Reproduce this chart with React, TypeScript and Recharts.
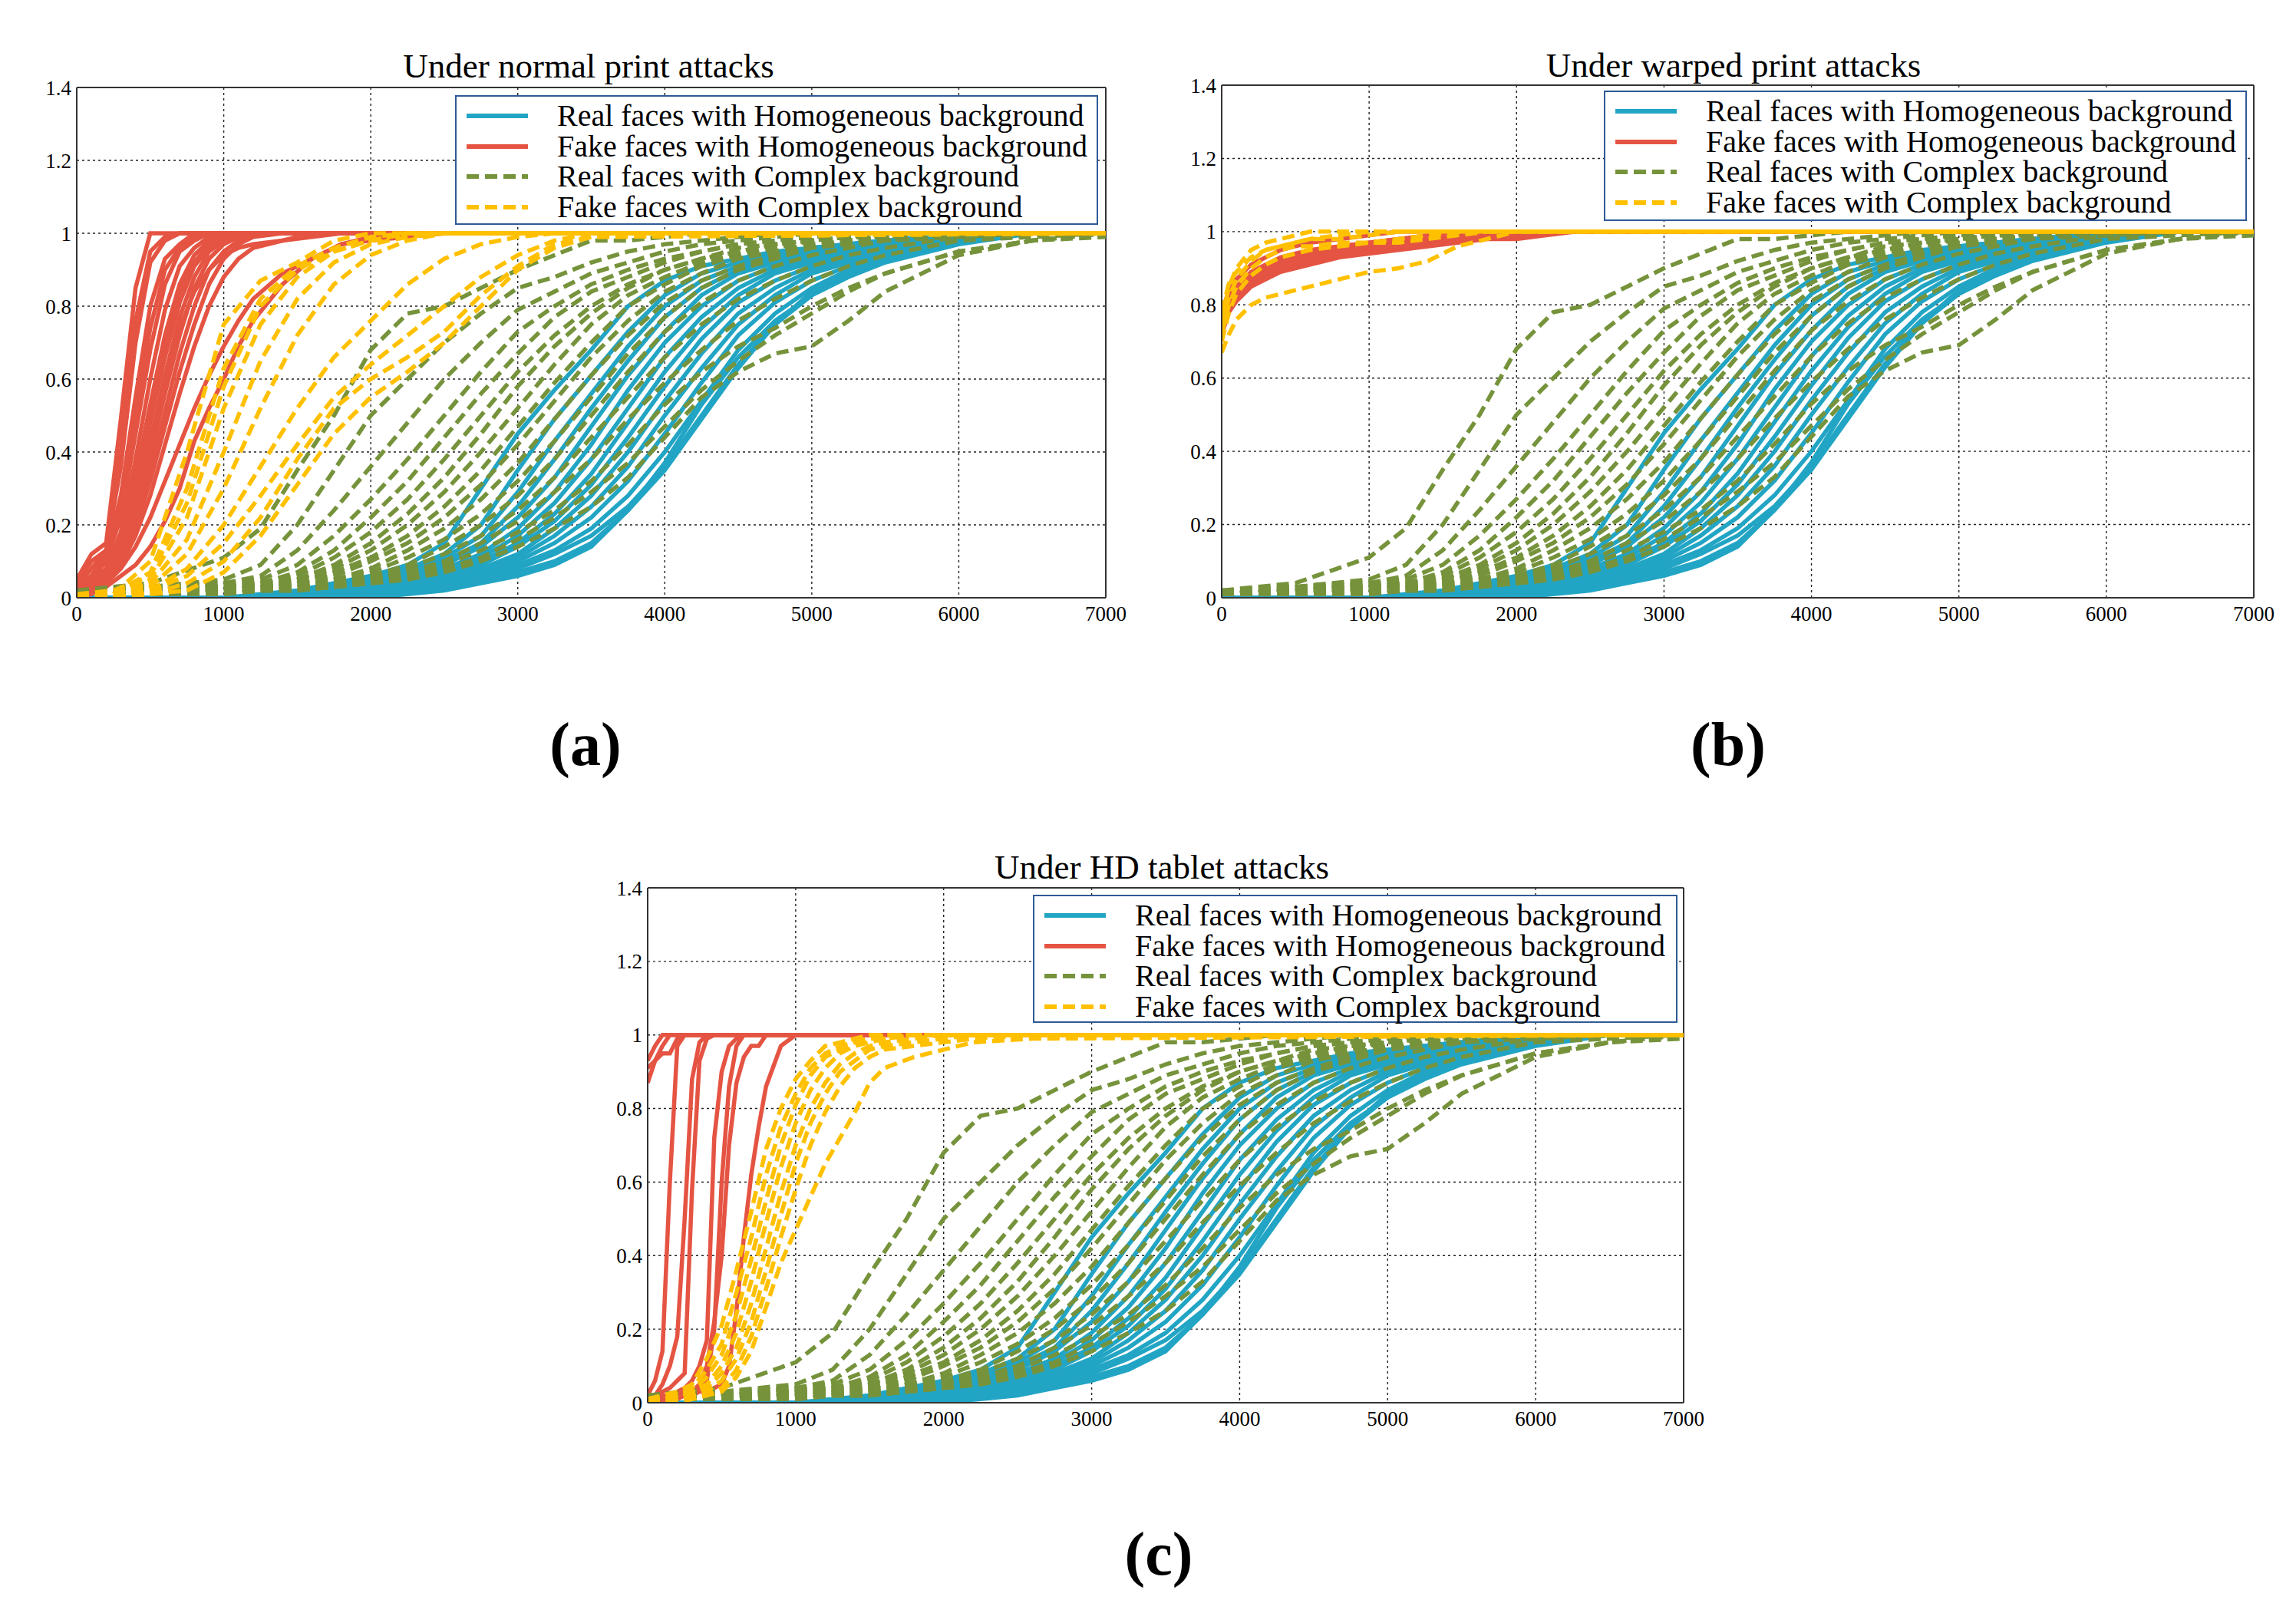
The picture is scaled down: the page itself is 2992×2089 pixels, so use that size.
import React from 'react';
import { LineChart, Line, XAxis, YAxis, CartesianGrid, ReferenceLine } from 'recharts';

const SERIF = '"Liberation Serif", "Times New Roman", serif';

const BLUE = '#22a5c4';
const RED = '#e55443';
const GREEN = '#76933c';
const YELLOW = '#ffc000';

const X_TICKS = [0, 1000, 2000, 3000, 4000, 5000, 6000, 7000];
const Y_TICKS = [0, 0.2, 0.4, 0.6, 0.8, 1, 1.2, 1.4];

const LEGEND_LABELS = [
  'Real faces with Homogeneous background',
  'Fake faces with Homogeneous background',
  'Real faces with Complex background',
  'Fake faces with Complex background',
];

// real faces are the same in every panel
const X_REAL = [0, 500, 1000, 1250, 1500, 1750, 2000, 2250, 2500, 2750, 3000, 3250, 3500, 3750, 4000, 4250, 4500, 4750, 5000, 5250, 5500, 6000, 6500, 7000];

const REAL_HOMOG = [
  [0, 0, 0, 0.01, 0.02, 0.04, 0.06, 0.09, 0.15, 0.30, 0.45, 0.57, 0.68, 0.80, 0.87, 0.91, 0.93, 0.95, 0.96, 0.97, 0.98, 1, 1, 1],
  [0, 0, 0, 0, 0.01, 0.03, 0.05, 0.08, 0.12, 0.20, 0.35, 0.49, 0.61, 0.73, 0.83, 0.89, 0.92, 0.94, 0.96, 0.97, 0.98, 0.99, 1, 1],
  [0, 0, 0, 0, 0.01, 0.02, 0.04, 0.07, 0.11, 0.17, 0.29, 0.43, 0.56, 0.69, 0.80, 0.87, 0.91, 0.94, 0.95, 0.97, 0.98, 0.99, 1, 1],
  [0, 0, 0, 0, 0.01, 0.02, 0.04, 0.06, 0.10, 0.15, 0.25, 0.38, 0.52, 0.65, 0.77, 0.85, 0.90, 0.93, 0.95, 0.96, 0.97, 0.99, 1, 1],
  [0, 0, 0, 0, 0, 0.01, 0.03, 0.05, 0.09, 0.14, 0.22, 0.33, 0.47, 0.61, 0.73, 0.83, 0.89, 0.92, 0.94, 0.96, 0.97, 0.99, 1, 1],
  [0, 0, 0, 0, 0, 0.01, 0.03, 0.05, 0.08, 0.12, 0.19, 0.29, 0.42, 0.57, 0.70, 0.80, 0.87, 0.91, 0.94, 0.96, 0.97, 0.99, 1, 1],
  [0, 0, 0, 0, 0, 0.01, 0.02, 0.04, 0.07, 0.11, 0.17, 0.26, 0.38, 0.52, 0.66, 0.77, 0.85, 0.90, 0.93, 0.95, 0.97, 0.99, 1, 1],
  [0, 0, 0, 0, 0, 0.01, 0.02, 0.04, 0.06, 0.10, 0.15, 0.23, 0.34, 0.48, 0.62, 0.74, 0.83, 0.89, 0.92, 0.95, 0.96, 0.99, 1, 1],
  [0, 0, 0, 0, 0, 0.01, 0.02, 0.03, 0.06, 0.09, 0.14, 0.21, 0.31, 0.44, 0.58, 0.71, 0.81, 0.87, 0.91, 0.94, 0.96, 0.98, 1, 1],
  [0, 0, 0, 0, 0, 0, 0.01, 0.03, 0.05, 0.08, 0.12, 0.19, 0.28, 0.40, 0.54, 0.67, 0.78, 0.85, 0.90, 0.93, 0.95, 0.98, 1, 1],
  [0, 0, 0, 0, 0, 0, 0.01, 0.03, 0.05, 0.07, 0.11, 0.17, 0.25, 0.36, 0.50, 0.63, 0.75, 0.83, 0.89, 0.92, 0.95, 0.98, 1, 1],
  [0, 0, 0, 0, 0, 0, 0.01, 0.02, 0.04, 0.06, 0.10, 0.15, 0.22, 0.32, 0.45, 0.59, 0.72, 0.81, 0.87, 0.91, 0.94, 0.98, 1, 1],
  [0, 0, 0, 0, 0, 0, 0.01, 0.02, 0.04, 0.06, 0.09, 0.13, 0.19, 0.28, 0.40, 0.54, 0.68, 0.78, 0.85, 0.90, 0.93, 0.98, 1, 1],
  [0, 0, 0, 0, 0, 0, 0.01, 0.02, 0.03, 0.05, 0.08, 0.12, 0.17, 0.25, 0.36, 0.50, 0.64, 0.75, 0.83, 0.89, 0.93, 0.98, 1, 1],
  [0, 0, 0, 0, 0, 0, 0.01, 0.02, 0.03, 0.05, 0.07, 0.10, 0.15, 0.24, 0.37, 0.53, 0.66, 0.76, 0.83, 0.88, 0.92, 0.97, 1, 1],
  [0, 0, 0, 0, 0, 0, 0, 0.01, 0.02, 0.04, 0.06, 0.09, 0.14, 0.24, 0.35, 0.49, 0.63, 0.75, 0.84, 0.90, 0.94, 0.99, 1, 1],
];

const REAL_COMPLEX = [
  [0.02, 0.04, 0.11, 0.19, 0.35, 0.50, 0.68, 0.78, 0.80, 0.85, 0.90, 0.94, 0.98, 0.98, 0.99, 1, 1, 1, 1, 1, 1, 1, 1, 1],
  [0.02, 0.03, 0.05, 0.09, 0.20, 0.35, 0.50, 0.60, 0.70, 0.78, 0.85, 0.88, 0.92, 0.95, 0.97, 0.98, 0.99, 1, 1, 1, 1, 1, 1, 1],
  [0.01, 0.03, 0.04, 0.06, 0.13, 0.24, 0.36, 0.48, 0.60, 0.70, 0.79, 0.84, 0.89, 0.92, 0.95, 0.97, 0.98, 0.99, 1, 1, 1, 1, 1, 1],
  [0.01, 0.02, 0.04, 0.05, 0.09, 0.17, 0.27, 0.38, 0.50, 0.62, 0.73, 0.80, 0.86, 0.90, 0.93, 0.95, 0.97, 0.98, 0.99, 1, 1, 1, 1, 1],
  [0.01, 0.02, 0.03, 0.04, 0.07, 0.13, 0.22, 0.32, 0.44, 0.56, 0.67, 0.77, 0.84, 0.88, 0.92, 0.95, 0.97, 0.98, 0.99, 1, 1, 1, 1, 1],
  [0.01, 0.02, 0.03, 0.04, 0.06, 0.11, 0.18, 0.27, 0.38, 0.50, 0.62, 0.72, 0.80, 0.86, 0.90, 0.93, 0.96, 0.97, 0.98, 0.99, 1, 1, 1, 1],
  [0.01, 0.02, 0.03, 0.04, 0.05, 0.09, 0.15, 0.23, 0.33, 0.45, 0.58, 0.69, 0.78, 0.85, 0.90, 0.93, 0.95, 0.97, 0.98, 0.99, 1, 1, 1, 1],
  [0.01, 0.02, 0.03, 0.03, 0.05, 0.08, 0.13, 0.20, 0.29, 0.40, 0.52, 0.64, 0.75, 0.83, 0.88, 0.92, 0.95, 0.97, 0.98, 0.99, 0.99, 1, 1, 1],
  [0.01, 0.02, 0.02, 0.03, 0.04, 0.07, 0.11, 0.17, 0.25, 0.35, 0.47, 0.59, 0.70, 0.80, 0.86, 0.91, 0.94, 0.96, 0.98, 0.99, 0.99, 1, 1, 1],
  [0.01, 0.02, 0.02, 0.03, 0.04, 0.06, 0.10, 0.15, 0.22, 0.31, 0.42, 0.54, 0.66, 0.76, 0.84, 0.89, 0.93, 0.95, 0.97, 0.98, 0.99, 1, 1, 1],
  [0.01, 0.01, 0.02, 0.03, 0.04, 0.05, 0.08, 0.13, 0.19, 0.27, 0.37, 0.49, 0.61, 0.72, 0.81, 0.87, 0.91, 0.94, 0.96, 0.98, 0.99, 1, 1, 1],
  [0.01, 0.01, 0.02, 0.03, 0.03, 0.05, 0.07, 0.11, 0.16, 0.23, 0.32, 0.43, 0.55, 0.67, 0.77, 0.85, 0.90, 0.93, 0.96, 0.97, 0.98, 1, 1, 1],
  [0.01, 0.01, 0.02, 0.02, 0.03, 0.04, 0.06, 0.09, 0.14, 0.20, 0.28, 0.38, 0.50, 0.62, 0.73, 0.81, 0.87, 0.91, 0.94, 0.96, 0.98, 0.99, 1, 1],
  [0.01, 0.01, 0.02, 0.02, 0.03, 0.04, 0.05, 0.08, 0.12, 0.17, 0.24, 0.33, 0.44, 0.55, 0.66, 0.75, 0.82, 0.87, 0.91, 0.94, 0.96, 0.99, 1, 1],
  [0.01, 0.01, 0.01, 0.02, 0.02, 0.03, 0.05, 0.07, 0.10, 0.15, 0.21, 0.29, 0.38, 0.49, 0.59, 0.68, 0.76, 0.82, 0.87, 0.91, 0.94, 0.98, 0.99, 1],
  [0.01, 0.01, 0.01, 0.02, 0.02, 0.03, 0.04, 0.06, 0.09, 0.13, 0.18, 0.24, 0.32, 0.42, 0.53, 0.62, 0.69, 0.74, 0.80, 0.85, 0.89, 0.95, 0.98, 1],
  [0.01, 0.01, 0.01, 0.02, 0.02, 0.03, 0.04, 0.05, 0.07, 0.10, 0.14, 0.19, 0.25, 0.33, 0.44, 0.55, 0.62, 0.67, 0.69, 0.76, 0.84, 0.94, 0.98, 0.99],
  [0.01, 0.01, 0.01, 0.02, 0.02, 0.03, 0.04, 0.05, 0.08, 0.11, 0.16, 0.22, 0.29, 0.37, 0.47, 0.57, 0.65, 0.72, 0.78, 0.84, 0.89, 0.95, 0.98, 1],
];

// (a) normal print attacks
const X_NORMAL_HOMOG = [0, 100, 200, 300, 400, 500, 600, 700, 800, 900, 1000, 1100, 1200, 1400, 1600, 1800, 2000, 2500, 7000];
const NORMAL_FAKE_HOMOG = [
  [0.05, 0.12, 0.15, 0.49, 0.85, 1, 1, 1, 1, 1, 1, 1, 1, 1, 1, 1, 1, 1, 1],
  [0.04, 0.10, 0.13, 0.40, 0.76, 0.95, 0.99, 1, 1, 1, 1, 1, 1, 1, 1, 1, 1, 1, 1],
  [0.03, 0.08, 0.13, 0.36, 0.70, 0.92, 0.98, 1, 1, 1, 1, 1, 1, 1, 1, 1, 1, 1, 1],
  [0.02, 0.06, 0.11, 0.28, 0.55, 0.80, 0.93, 0.97, 1, 1, 1, 1, 1, 1, 1, 1, 1, 1, 1],
  [0.02, 0.06, 0.12, 0.25, 0.50, 0.74, 0.90, 0.96, 0.99, 1, 1, 1, 1, 1, 1, 1, 1, 1, 1],
  [0.02, 0.05, 0.10, 0.22, 0.45, 0.68, 0.86, 0.95, 0.98, 1, 1, 1, 1, 1, 1, 1, 1, 1, 1],
  [0.01, 0.04, 0.08, 0.18, 0.38, 0.60, 0.79, 0.91, 0.96, 0.99, 1, 1, 1, 1, 1, 1, 1, 1, 1],
  [0.01, 0.04, 0.08, 0.16, 0.33, 0.53, 0.72, 0.86, 0.94, 0.98, 1, 1, 1, 1, 1, 1, 1, 1, 1],
  [0.01, 0.03, 0.07, 0.15, 0.31, 0.51, 0.70, 0.84, 0.92, 0.97, 0.99, 1, 1, 1, 1, 1, 1, 1, 1],
  [0.01, 0.03, 0.07, 0.14, 0.29, 0.48, 0.66, 0.81, 0.91, 0.96, 0.99, 1, 1, 1, 1, 1, 1, 1, 1],
  [0.01, 0.03, 0.06, 0.13, 0.26, 0.43, 0.61, 0.77, 0.88, 0.95, 0.98, 1, 1, 1, 1, 1, 1, 1, 1],
  [0.01, 0.03, 0.06, 0.12, 0.23, 0.39, 0.56, 0.72, 0.85, 0.93, 0.97, 0.99, 1, 1, 1, 1, 1, 1, 1],
  [0.01, 0.03, 0.06, 0.12, 0.24, 0.41, 0.60, 0.74, 0.84, 0.90, 0.94, 0.96, 0.97, 0.98, 0.99, 1, 1, 1, 1],
  [0.01, 0.02, 0.05, 0.11, 0.21, 0.35, 0.51, 0.67, 0.80, 0.90, 0.95, 0.98, 1, 1, 1, 1, 1, 1, 1],
  [0.01, 0.02, 0.05, 0.10, 0.19, 0.32, 0.47, 0.62, 0.75, 0.86, 0.93, 0.97, 0.99, 1, 1, 1, 1, 1, 1],
  [0.01, 0.02, 0.04, 0.09, 0.17, 0.28, 0.42, 0.56, 0.69, 0.80, 0.88, 0.93, 0.96, 0.98, 1, 1, 1, 1, 1],
  [0, 0.02, 0.04, 0.08, 0.14, 0.22, 0.32, 0.42, 0.52, 0.61, 0.69, 0.76, 0.82, 0.89, 0.93, 0.97, 0.99, 1, 1],
  [0, 0.01, 0.03, 0.06, 0.09, 0.14, 0.21, 0.30, 0.43, 0.52, 0.60, 0.69, 0.76, 0.86, 0.93, 0.97, 0.98, 1, 1],
];

const X_NORMAL_COMPLEX = [0, 250, 500, 750, 1000, 1250, 1500, 1750, 2000, 2250, 2500, 2750, 3000, 3250, 3500, 7000];
const NORMAL_FAKE_COMPLEX = [
  [0, 0.01, 0.10, 0.40, 0.75, 0.87, 0.92, 0.98, 1, 1, 1, 1, 1, 1, 1, 1],
  [0.01, 0.02, 0.06, 0.26, 0.58, 0.80, 0.90, 0.95, 0.98, 1, 1, 1, 1, 1, 1, 1],
  [0, 0.01, 0.07, 0.30, 0.63, 0.82, 0.91, 0.96, 0.99, 1, 1, 1, 1, 1, 1, 1],
  [0, 0.01, 0.05, 0.22, 0.52, 0.75, 0.88, 0.95, 0.98, 1, 1, 1, 1, 1, 1, 1],
  [0, 0.01, 0.04, 0.16, 0.40, 0.65, 0.82, 0.92, 0.97, 0.99, 1, 1, 1, 1, 1, 1],
  [0, 0, 0.03, 0.12, 0.30, 0.52, 0.72, 0.86, 0.94, 0.98, 1, 1, 1, 1, 1, 1],
  [0, 0, 0.02, 0.08, 0.20, 0.36, 0.52, 0.66, 0.76, 0.86, 0.93, 0.97, 0.99, 1, 1, 1],
  [0, 0, 0.02, 0.06, 0.15, 0.28, 0.42, 0.55, 0.64, 0.72, 0.80, 0.88, 0.94, 0.98, 1, 1],
  [0, 0, 0.01, 0.04, 0.10, 0.22, 0.38, 0.52, 0.60, 0.66, 0.73, 0.83, 0.91, 0.97, 0.99, 1],
  [0, 0, 0.01, 0.02, 0.07, 0.17, 0.31, 0.45, 0.55, 0.62, 0.70, 0.80, 0.90, 0.96, 0.99, 1],
];

// (b) warped print attacks
const X_WARPED = [0, 50, 100, 200, 300, 400, 500, 600, 800, 1000, 1200, 1400, 1600, 1800, 2000, 2200, 2400, 7000];
const WARPED_FAKE_HOMOG = [
  [0.72, 0.78, 0.81, 0.85, 0.87, 0.89, 0.90, 0.91, 0.93, 0.94, 0.95, 0.96, 0.97, 0.98, 0.98, 0.99, 1, 1],
  [0.74, 0.80, 0.83, 0.87, 0.89, 0.91, 0.92, 0.93, 0.95, 0.96, 0.97, 0.98, 0.98, 0.99, 1, 1, 1, 1],
  [0.76, 0.82, 0.85, 0.89, 0.91, 0.93, 0.94, 0.95, 0.96, 0.97, 0.98, 0.99, 1, 1, 1, 1, 1, 1],
  [0.78, 0.84, 0.87, 0.91, 0.93, 0.95, 0.96, 0.97, 0.98, 0.99, 1, 1, 1, 1, 1, 1, 1, 1],
  [0.75, 0.81, 0.84, 0.88, 0.90, 0.92, 0.93, 0.94, 0.96, 0.97, 0.98, 0.98, 0.99, 0.99, 1, 1, 1, 1],
  [0.73, 0.79, 0.82, 0.86, 0.88, 0.90, 0.91, 0.92, 0.94, 0.95, 0.96, 0.97, 0.98, 0.99, 0.99, 1, 1, 1],
];
const WARPED_FAKE_COMPLEX = [
  [0.67, 0.72, 0.76, 0.80, 0.82, 0.83, 0.84, 0.85, 0.87, 0.89, 0.90, 0.92, 0.96, 0.98, 1, 1, 1, 1],
  [0.70, 0.78, 0.83, 0.88, 0.91, 0.93, 0.94, 0.95, 0.96, 0.97, 0.97, 0.98, 0.99, 1, 1, 1, 1, 1],
  [0.74, 0.82, 0.87, 0.92, 0.95, 0.96, 0.97, 0.98, 0.99, 1, 1, 1, 1, 1, 1, 1, 1, 1],
  [0.76, 0.85, 0.90, 0.95, 0.97, 0.98, 0.99, 1, 1, 1, 1, 1, 1, 1, 1, 1, 1, 1],
  [0.72, 0.80, 0.85, 0.90, 0.93, 0.95, 0.96, 0.96, 0.97, 0.97, 0.98, 0.99, 1, 1, 1, 1, 1, 1],
  [0.78, 0.86, 0.89, 0.93, 0.95, 0.96, 0.97, 0.98, 0.98, 0.99, 1, 1, 1, 1, 1, 1, 1, 1],
];

// (c) HD tablet attacks
const X_TABLET_HOMOG = [0, 50, 100, 150, 200, 250, 300, 350, 400, 450, 500, 550, 600, 650, 700, 750, 800, 900, 1000, 1500, 7000];
const TABLET_FAKE_HOMOG = [
  [0.87, 0.93, 0.97, 1, 1, 1, 1, 1, 1, 1, 1, 1, 1, 1, 1, 1, 1, 1, 1, 1, 1],
  [0.91, 0.93, 0.95, 0.95, 0.99, 1, 1, 1, 1, 1, 1, 1, 1, 1, 1, 1, 1, 1, 1, 1, 1],
  [0.93, 0.97, 1, 1, 1, 1, 1, 1, 1, 1, 1, 1, 1, 1, 1, 1, 1, 1, 1, 1, 1],
  [0.02, 0.06, 0.14, 0.60, 0.97, 1, 1, 1, 1, 1, 1, 1, 1, 1, 1, 1, 1, 1, 1, 1, 1],
  [0.01, 0.02, 0.05, 0.10, 0.18, 0.50, 0.88, 0.98, 1, 1, 1, 1, 1, 1, 1, 1, 1, 1, 1, 1, 1],
  [0.01, 0.02, 0.03, 0.04, 0.06, 0.08, 0.58, 0.93, 0.99, 1, 1, 1, 1, 1, 1, 1, 1, 1, 1, 1, 1],
  [0, 0.01, 0.02, 0.02, 0.03, 0.04, 0.06, 0.10, 0.17, 0.72, 0.90, 0.97, 0.99, 1, 1, 1, 1, 1, 1, 1, 1],
  [0, 0, 0.01, 0.01, 0.02, 0.02, 0.03, 0.04, 0.06, 0.20, 0.60, 0.86, 0.97, 1, 1, 1, 1, 1, 1, 1, 1],
  [0, 0, 0.01, 0.01, 0.02, 0.03, 0.03, 0.05, 0.10, 0.22, 0.40, 0.70, 0.87, 0.94, 0.97, 0.97, 1, 1, 1, 1, 1],
  [0, 0, 0, 0.01, 0.01, 0.02, 0.02, 0.03, 0.03, 0.04, 0.05, 0.10, 0.25, 0.45, 0.62, 0.75, 0.86, 0.97, 1, 1, 1],
];

const X_TABLET_COMPLEX = [0, 100, 200, 300, 400, 500, 600, 700, 800, 900, 1000, 1100, 1200, 1300, 1400, 1500, 1600, 1800, 2000, 2200, 2600, 7000];
const TABLET_FAKE_COMPLEX = [
  [0.01, 0.02, 0.03, 0.05, 0.12, 0.21, 0.36, 0.52, 0.69, 0.80, 0.88, 0.93, 0.97, 0.98, 0.99, 1, 1, 1, 1, 1, 1, 1],
  [0.01, 0.01, 0.02, 0.04, 0.09, 0.16, 0.30, 0.45, 0.62, 0.75, 0.84, 0.91, 0.95, 0.97, 0.98, 0.99, 1, 1, 1, 1, 1, 1],
  [0, 0.01, 0.02, 0.03, 0.07, 0.13, 0.24, 0.39, 0.55, 0.70, 0.81, 0.89, 0.94, 0.96, 0.98, 0.99, 0.99, 1, 1, 1, 1, 1],
  [0, 0.01, 0.01, 0.03, 0.05, 0.10, 0.19, 0.33, 0.49, 0.64, 0.76, 0.85, 0.91, 0.95, 0.97, 0.98, 0.99, 1, 1, 1, 1, 1],
  [0, 0, 0.01, 0.02, 0.04, 0.08, 0.15, 0.27, 0.42, 0.57, 0.70, 0.80, 0.87, 0.92, 0.95, 0.97, 0.98, 0.99, 1, 1, 1, 1],
  [0, 0, 0.01, 0.02, 0.03, 0.06, 0.12, 0.22, 0.36, 0.51, 0.65, 0.76, 0.84, 0.90, 0.93, 0.96, 0.97, 0.98, 0.99, 1, 1, 1],
  [0, 0, 0.01, 0.01, 0.02, 0.04, 0.09, 0.18, 0.31, 0.45, 0.58, 0.70, 0.79, 0.86, 0.91, 0.94, 0.96, 0.97, 0.98, 0.99, 1, 1],
  [0, 0, 0, 0.01, 0.02, 0.03, 0.07, 0.14, 0.26, 0.38, 0.47, 0.56, 0.65, 0.72, 0.79, 0.87, 0.91, 0.94, 0.96, 0.98, 0.99, 1],
];

const LINE_WIDTH = 5.5;
const DASH = '16 8';

const toPoints = (xs: number[], ys: number[]) => xs.map((x, i) => ({ x, y: ys[i] }));

type Group = { xs: number[]; curves: number[][]; color: string; dashed: boolean };

const legendItems = [
  { color: BLUE, dashed: false },
  { color: RED, dashed: false },
  { color: GREEN, dashed: true },
  { color: YELLOW, dashed: true },
];

function LegendBox({ left, top, width, height }: { left: number; top: number; width: number; height: number }) {
  return (
    <div
      style={{
        position: 'absolute', left, top, width, height, boxSizing: 'border-box',
        border: '2px solid #2f5a96', background: '#fff',
      }}
    >
      {LEGEND_LABELS.map((label, i) => (
        <div
          key={label}
          style={{ position: 'absolute', left: 0, top: 5 + i * 39.5, height: 40, display: 'flex', alignItems: 'center', whiteSpace: 'nowrap' }}
        >
          <svg width={100} height={40}>
            <line
              x1={13} x2={93} y1={20} y2={20}
              stroke={legendItems[i].color} strokeWidth={6}
              strokeDasharray={legendItems[i].dashed ? DASH : undefined}
            />
          </svg>
          <span style={{ marginLeft: 31, fontFamily: SERIF, fontSize: 40, lineHeight: '40px', color: '#000' }}>{label}</span>
        </div>
      ))}
    </div>
  );
}

type PanelProps = {
  box: { left: number; top: number; width: number; height: number; margin: { top: number; right: number; bottom: number; left: number } };
  title: string;
  titlePos: { x: number; y: number };
  tag: string;
  tagPos: { x: number; y: number };
  legend: { left: number; top: number; width: number; height: number };
  groups: Group[];
};

function Panel({ box, title, titlePos, tag, tagPos, legend, groups }: PanelProps) {
  const tickStyle = { fontFamily: SERIF, fontSize: 27, fill: '#000' };
  return (
    <>
      <div style={{ position: 'absolute', left: box.left, top: box.top }}>
        <LineChart width={box.width} height={box.height} margin={box.margin}>
          <CartesianGrid stroke="#222" strokeWidth={1.4} strokeDasharray="3 4" />
          <XAxis
            type="number" dataKey="x" domain={[0, 7000]} ticks={X_TICKS} allowDataOverflow
            height={40} tickSize={0} tickMargin={11} tick={tickStyle}
            axisLine={{ stroke: '#333', strokeWidth: 2 }}
          />
          <YAxis
            type="number" domain={[0, 1.4]} ticks={Y_TICKS} allowDataOverflow
            width={60} tickSize={0} tickMargin={7} tick={tickStyle}
            axisLine={{ stroke: '#333', strokeWidth: 2 }}
          />
          <ReferenceLine y={1.4} stroke="#333" strokeWidth={2} />
          <ReferenceLine x={7000} stroke="#333" strokeWidth={2} />
          {groups.map((g, gi) =>
            g.curves.map((ys, ci) => (
              <Line
                key={`${gi}-${ci}`}
                data={toPoints(g.xs, ys)}
                dataKey="y"
                type="linear"
                stroke={g.color}
                strokeWidth={LINE_WIDTH}
                strokeDasharray={g.dashed ? DASH : undefined}
                dot={false}
                activeDot={false}
                legendType="none"
                isAnimationActive={false}
              />
            ))
          )}
        </LineChart>
      </div>
      <div
        style={{
          position: 'absolute', left: titlePos.x, top: titlePos.y, transform: 'translate(-50%, -50%)',
          fontFamily: SERIF, fontSize: 45, lineHeight: 1, whiteSpace: 'nowrap', color: '#000',
        }}
      >
        {title}
      </div>
      <div
        style={{
          position: 'absolute', left: tagPos.x, top: tagPos.y, transform: 'translate(-50%, -50%)',
          fontFamily: SERIF, fontSize: 80, fontWeight: 'bold', lineHeight: 1, color: '#000',
        }}
      >
        {tag}
      </div>
      <LegendBox {...legend} />
    </>
  );
}

export default function App() {
  return (
    <div style={{ position: 'absolute', left: 0, top: 0, width: 2992, height: 2089, background: '#fff' }}>
      <Panel
        box={{ left: 0, top: 60, width: 1480, height: 800, margin: { top: 54, right: 39, bottom: 41, left: 40 } }}
        title="Under normal print attacks"
        titlePos={{ x: 767, y: 86 }}
        tag="(a)"
        tagPos={{ x: 763, y: 970 }}
        legend={{ left: 593, top: 124, width: 838, height: 169 }}
        groups={[
          { xs: X_REAL, curves: REAL_HOMOG, color: BLUE, dashed: false },
          { xs: X_NORMAL_HOMOG, curves: NORMAL_FAKE_HOMOG, color: RED, dashed: false },
          { xs: X_REAL, curves: REAL_COMPLEX, color: GREEN, dashed: true },
          { xs: X_NORMAL_COMPLEX, curves: NORMAL_FAKE_COMPLEX, color: YELLOW, dashed: true },
        ]}
      />
      <Panel
        box={{ left: 1520, top: 60, width: 1460, height: 800, margin: { top: 51, right: 43, bottom: 41, left: 12 } }}
        title="Under warped print attacks"
        titlePos={{ x: 2259, y: 85 }}
        tag="(b)"
        tagPos={{ x: 2252, y: 970 }}
        legend={{ left: 2090, top: 118, width: 838, height: 170 }}
        groups={[
          { xs: X_REAL, curves: REAL_HOMOG, color: BLUE, dashed: false },
          { xs: X_WARPED, curves: WARPED_FAKE_HOMOG, color: RED, dashed: false },
          { xs: X_REAL, curves: REAL_COMPLEX, color: GREEN, dashed: true },
          { xs: X_WARPED, curves: WARPED_FAKE_COMPLEX, color: YELLOW, dashed: true },
        ]}
      />
      <Panel
        box={{ left: 770, top: 1100, width: 1460, height: 800, margin: { top: 57, right: 36, bottom: 32, left: 14 } }}
        title="Under HD tablet attacks"
        titlePos={{ x: 1514, y: 1130 }}
        tag="(c)"
        tagPos={{ x: 1510, y: 2025 }}
        legend={{ left: 1346, top: 1166, width: 840, height: 167 }}
        groups={[
          { xs: X_REAL, curves: REAL_HOMOG, color: BLUE, dashed: false },
          { xs: X_TABLET_HOMOG, curves: TABLET_FAKE_HOMOG, color: RED, dashed: false },
          { xs: X_REAL, curves: REAL_COMPLEX, color: GREEN, dashed: true },
          { xs: X_TABLET_COMPLEX, curves: TABLET_FAKE_COMPLEX, color: YELLOW, dashed: true },
        ]}
      />
    </div>
  );
}
